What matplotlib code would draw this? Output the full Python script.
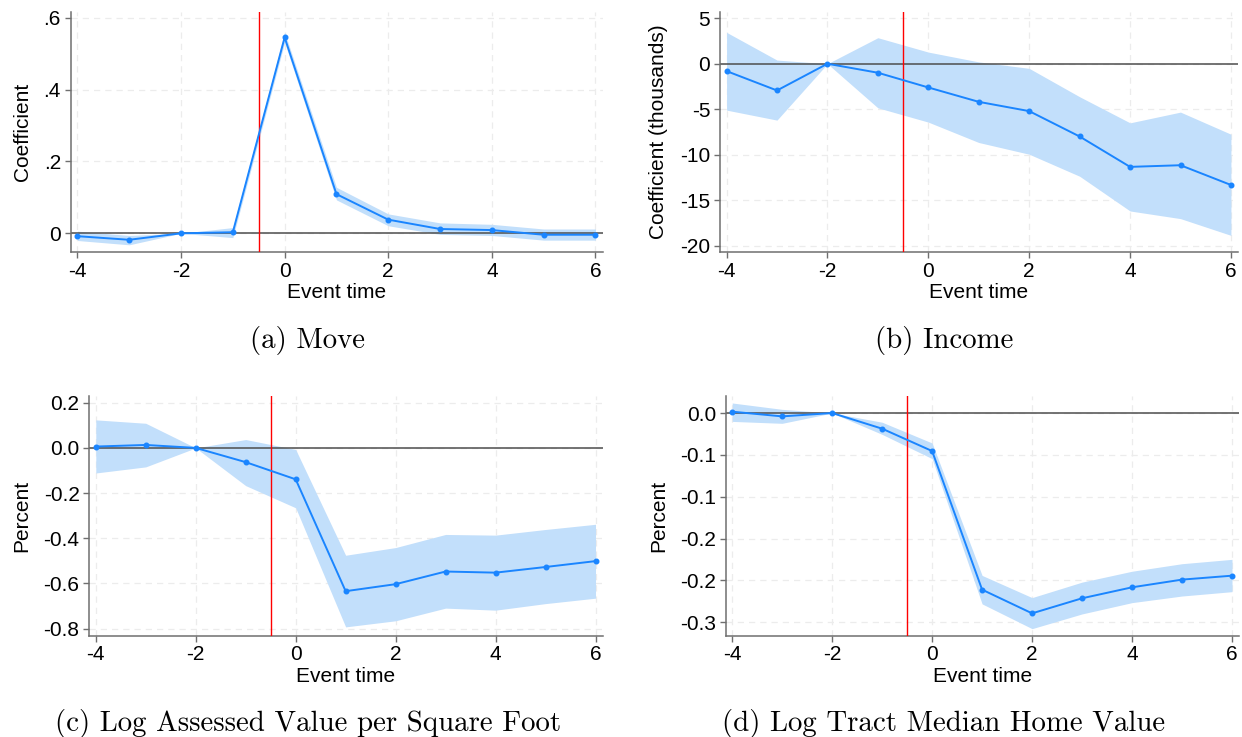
import matplotlib
matplotlib.use("Agg")
import matplotlib.pyplot as plt
import numpy as np

# ---------------- data ----------------
event_time = [-4, -3, -2, -1, 0, 1, 2, 3, 4, 5, 6]

move_coef = [-0.008, -0.018, 0.0, 0.003, 0.545, 0.109, 0.038, 0.012, 0.009, -0.004, -0.004]
move_hi   = [0.006, -0.006, 0.0, 0.016, 0.559, 0.128, 0.054, 0.029, 0.025, 0.012, 0.012]
move_lo   = [-0.020, -0.032, 0.0, -0.012, 0.531, 0.093, 0.021, -0.003, -0.006, -0.019, -0.019]

inc_coef = [-0.81, -2.94, 0.0, -0.99, -2.61, -4.19, -5.21, -8.00, -11.34, -11.16, -13.33]
inc_hi   = [3.45, 0.40, 0.0, 2.86, 1.28, 0.20, -0.51, -3.63, -6.50, -5.32, -7.75]
inc_lo   = [-5.10, -6.20, 0.0, -4.85, -6.42, -8.66, -9.95, -12.37, -16.19, -17.03, -18.87]

asv_coef = [0.006, 0.013, 0.0, -0.063, -0.139, -0.634, -0.603, -0.547, -0.552, -0.527, -0.501]
asv_hi   = [0.124, 0.109, 0.0, 0.037, -0.007, -0.475, -0.441, -0.383, -0.386, -0.361, -0.338]
asv_lo   = [-0.111, -0.084, 0.0, -0.167, -0.265, -0.792, -0.765, -0.709, -0.718, -0.689, -0.665]

tract_coef = [0.0016, -0.0040, 0.0, -0.0187, -0.0454, -0.2110, -0.2393, -0.2213, -0.2082, -0.1990, -0.1943]
tract_hi   = [0.0120, 0.0044, 0.0, -0.0110, -0.0358, -0.1940, -0.2205, -0.2020, -0.1890, -0.1800, -0.1748]
tract_lo   = [-0.0100, -0.0123, 0.0, -0.0255, -0.0545, -0.2280, -0.2576, -0.2400, -0.2265, -0.2186, -0.2134]

x_ticks = [-4, -2, 0, 2, 4, 6]
x_ticklabels = ["-4", "-2", "0", "2", "4", "6"]

a_yticks = [0, 0.2, 0.4, 0.6]
a_yticklabels = ["0", ".2", ".4", ".6"]
b_yticks = [5, 0, -5, -10, -15, -20]
b_yticklabels = ["5", "0", "-5", "-10", "-15", "-20"]
c_yticks = [0.2, 0.0, -0.2, -0.4, -0.6, -0.8]
c_yticklabels = ["0.2", "0.0", "-0.2", "-0.4", "-0.6", "-0.8"]
d_yticks = [0.0, -0.05, -0.10, -0.15, -0.20, -0.25]
d_yticklabels = ["0.0", "-0.1", "-0.1", "-0.2", "-0.2", "-0.3"]

treat_time = -0.5

panels = [
    dict(coef=move_coef, hi=move_hi, lo=move_lo, ylabel="Coefficient",
         yticks=a_yticks, yticklabels=a_yticklabels, caption="(a) Move"),
    dict(coef=inc_coef, hi=inc_hi, lo=inc_lo, ylabel="Coefficient (thousands)",
         yticks=b_yticks, yticklabels=b_yticklabels, caption="(b) Income"),
    dict(coef=asv_coef, hi=asv_hi, lo=asv_lo, ylabel="Percent",
         yticks=c_yticks, yticklabels=c_yticklabels,
         caption="(c) Log Assessed Value per Square Foot"),
    dict(coef=tract_coef, hi=tract_hi, lo=tract_lo, ylabel="Percent",
         yticks=d_yticks, yticklabels=d_yticklabels,
         caption="(d) Log Tract Median Home Value"),
]

# ---------------- layout / style ----------------
W, H = 1242, 737
# axes boxes in pixels: left, right, top, bottom
boxes = [(70.7, 602.7, 11.7, 252.0),
         (720.0, 1238.0, 11.7, 252.0),
         (89.3, 602.5, 395.7, 635.7),
         (725.7, 1239.0, 395.7, 635.7)]
ylims = [(-0.052, 0.6166), (-20.7, 5.72), (-0.831, 0.231), (-0.266, 0.0207)]
xlim = (-4.13, 6.14)
ylabel_x = [-0.0915, -0.1187, -0.1315, -0.131]
captions_xy = [(307, 348), (944, 348), (308, 731), (944, 731)]

line_blue = "#1a85ff"
band_blue = "#c2dffb"
axis_gray = "#6f6f6f"
grid_gray = "#ececec"
sans = ["Liberation Sans", "DejaVu Sans"]
fs = 15

fig = plt.figure(figsize=(W / 100, H / 100), dpi=100)

for p, box, yl, lx, cxy in zip(panels, boxes, ylims, ylabel_x, captions_xy):
    l, r, t, b = box
    ax = fig.add_axes([l / W, 1 - b / H, (r - l) / W, (b - t) / H])
    ax.set_xlim(*xlim)
    ax.set_ylim(*yl)

    ax.set_xticks(x_ticks)
    ax.set_xticklabels(x_ticklabels, fontfamily=sans, fontsize=fs)
    ax.set_yticks(p["yticks"])
    ax.set_yticklabels(p["yticklabels"], fontfamily=sans, fontsize=fs)
    ax.tick_params(length=4, width=1, color=axis_gray, pad=3)

    ax.grid(True, color=grid_gray, linestyle=(0, (5, 4)), linewidth=0.9, zorder=0)
    ax.set_axisbelow(True)

    for s in ["top", "right"]:
        ax.spines[s].set_visible(False)
    for s in ["left", "bottom"]:
        ax.spines[s].set_color(axis_gray)
        ax.spines[s].set_linewidth(1.1)

    ax.fill_between(event_time, p["lo"], p["hi"], color=band_blue, linewidth=0, zorder=1)
    ax.axhline(0, color="#4d4d4d", linewidth=1.1, zorder=2)
    ax.axvline(treat_time, color="red", linewidth=1.0, zorder=3)
    ax.plot(event_time, p["coef"], color=line_blue, linewidth=1.4, marker="o",
            markersize=3.3, zorder=4)

    ax.set_xlabel("Event time", fontfamily=sans, fontsize=fs, va="center")
    ax.xaxis.set_label_coords(0.5, -40.5 / (b - t))
    ax.set_ylabel(p["ylabel"], fontfamily=sans, fontsize=fs, va="center")
    ax.yaxis.set_label_coords(lx, 0.5)

    fig.text(cxy[0] / W, 1 - cxy[1] / H, p["caption"], fontfamily="cmr10",
             fontsize=20.8, ha="center", va="baseline")

fig.savefig("out.png", dpi=100, facecolor="white")
